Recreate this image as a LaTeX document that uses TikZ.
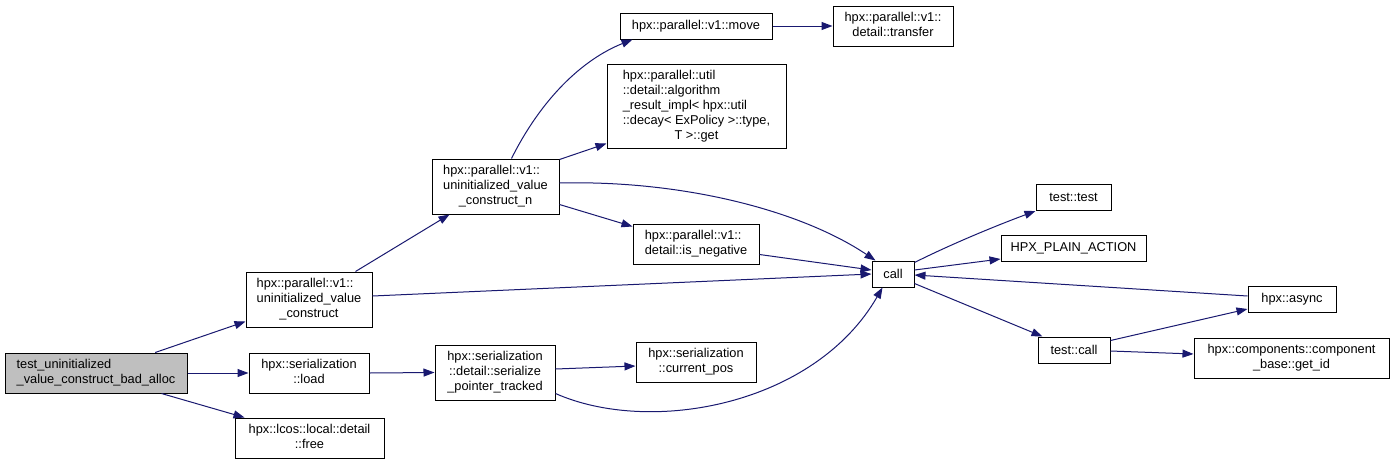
\documentclass[tikz,border=0pt]{standalone}
\usepackage{fontspec}
\setmainfont{Liberation Sans}
\usetikzlibrary{arrows.meta}
\definecolor{edgec}{HTML}{191970}
\definecolor{startfill}{HTML}{BFBFBF}
\newcommand\myctab[1]{\begin{tabular}{@{}c@{}}#1\end{tabular}}
\newcommand\myltab[1]{\begin{tabular}{@{}l@{}}#1\end{tabular}}
\newcommand\mymc[1]{\multicolumn{1}{@{}c@{}}{#1}}
\begin{document}
\begin{tikzpicture}[x=1pt,y=-1pt,
  box/.style={draw=black, line width=1pt, fill=white, inner sep=0pt, rectangle,
    font=\fontsize{12.8}{15}\selectfont},
  link/.style={draw=edgec, line width=1pt, -{Triangle[length=11pt,width=8pt]}}]
\fill[white] (0,0) rectangle (1395,464);
\useasboundingbox (0,0) rectangle (1395,464);

% nodes
\node[box, fill=startfill, minimum width=182pt, minimum height=40pt] (start) at (96,373)
  {\myltab{test\_uninitialized\\\_value\_construct\_bad\_alloc}};
\node[box, minimum width=126pt, minimum height=55pt] (uvc) at (309,299.5)
  {\myltab{hpx::parallel::v1::\\uninitialized\_value\\\mymc{\_construct}}};
\node[box, minimum width=120pt, minimum height=40pt] (load) at (309,373)
  {\myctab{hpx::serialization\\::load}};
\node[box, minimum width=149pt, minimum height=40pt] (free) at (309.5,438)
  {\myctab{hpx::lcos::local::detail\\::free}};
\node[box, minimum width=127pt, minimum height=55pt] (uvcn) at (495.5,186.5)
  {\myltab{hpx::parallel::v1::\\uninitialized\_value\\\mymc{\_construct\_n}}};
\node[box, minimum width=152pt, minimum height=26pt] (move) at (696,26)
  {hpx::parallel::v1::move};
\node[box, minimum width=179pt, minimum height=84pt] (algo) at (696.5,106)
  {\myltab{hpx::parallel::util\\::detail::algorithm\\\_result\_impl< hpx::util\\::decay< ExPolicy >::type,\\\mymc{T >::get}}};
\node[box, minimum width=120pt, minimum height=40pt] (transfer) at (893,26)
  {\myctab{hpx::parallel::v1::\\detail::transfer}};
\node[box, minimum width=126pt, minimum height=40pt] (isneg) at (696,244)
  {\myltab{hpx::parallel::v1::\\detail::is\_negative}};
\node[box, minimum width=120pt, minimum height=55pt] (spt) at (495,372.5)
  {\myctab{hpx::serialization\\::detail::serialize\\\_pointer\_tracked}};
\node[box, minimum width=120pt, minimum height=40pt] (curpos) at (696,362)
  {\myctab{hpx::serialization\\::current\_pos}};
\node[box, minimum width=42pt, minimum height=26pt] (call) at (893,274) {call};
\node[box, minimum width=75pt, minimum height=26pt] (ttest) at (1073.5,197.5) {test::test};
\node[box, minimum width=145pt, minimum height=26pt] (hpa) at (1073.5,248.5) {HPX\_PLAIN\_ACTION};
\node[box, minimum width=88pt, minimum height=26pt] (async) at (1292,299.5) {hpx::async};
\node[box, minimum width=72pt, minimum height=26pt] (tcall) at (1074,350) {test::call};
\node[box, minimum width=195pt, minimum height=40pt] (getid) at (1291.5,358)
  {\myctab{hpx::components::component\\\_base::get\_id}};

% edges
\draw[link] ([xshift=150.7pt]start.north west) -- ([yshift=6pt]uvc.south west);
\draw[link] (start.east) -- (load.west);
\draw[link] ([xshift=157pt]start.south west) -- ([xshift=10pt]free.north west);
\draw[link] ([xshift=110pt]uvc.north west) -- ([xshift=18pt]uvcn.south west);
\draw[link] ([yshift=3.5pt]uvc.east) -- (call.west);
\draw[link] (load.east) -- (spt.west);
\draw[link] ([xshift=80pt]uvcn.north west) .. controls +(30,-60) and +(-50,20) .. ([xshift=13pt]move.south west);
\draw[link] ([yshift=-1pt]uvcn.north east) -- ([yshift=5pt]algo.south west);
\draw[link] ([yshift=3.5pt]uvcn.east) .. controls +(121,-3) and +(-76,-51) .. ([xshift=4pt]call.north west);
\draw[link] ([yshift=10pt]uvcn.south east) -- ([yshift=-3pt]isneg.north west);
\draw[link] ([yshift=10pt]isneg.south east) -- ([yshift=4pt]call.west);
\draw[link] ([yshift=3.5pt]spt.east) -- ([yshift=-4pt]curpos.west);
\draw[link] ([yshift=7pt]spt.south east) .. controls +(95,42) and +(-68,118) .. ([xshift=11pt]call.south west);
\draw[link] (move.east) -- (transfer.west);
\draw[link] ([yshift=-2pt]call.north east) .. controls +(40,-20) and +(-35,13) .. (ttest.south west);
\draw[link] ([yshift=4pt]call.east) -- ([yshift=3pt]hpa.south west);
\draw[link] ([yshift=3.5pt]async.west) -- ([yshift=-1pt]call.east);
\draw[link] ([yshift=4pt]call.south east) -- ([xshift=5pt]tcall.north west);
\draw[link] ([yshift=-4pt]tcall.north east) -- ([yshift=4pt]async.south west);
\draw[link] ([yshift=-1pt]tcall.east) -- ([yshift=4pt]getid.west);
\end{tikzpicture}
\end{document}
